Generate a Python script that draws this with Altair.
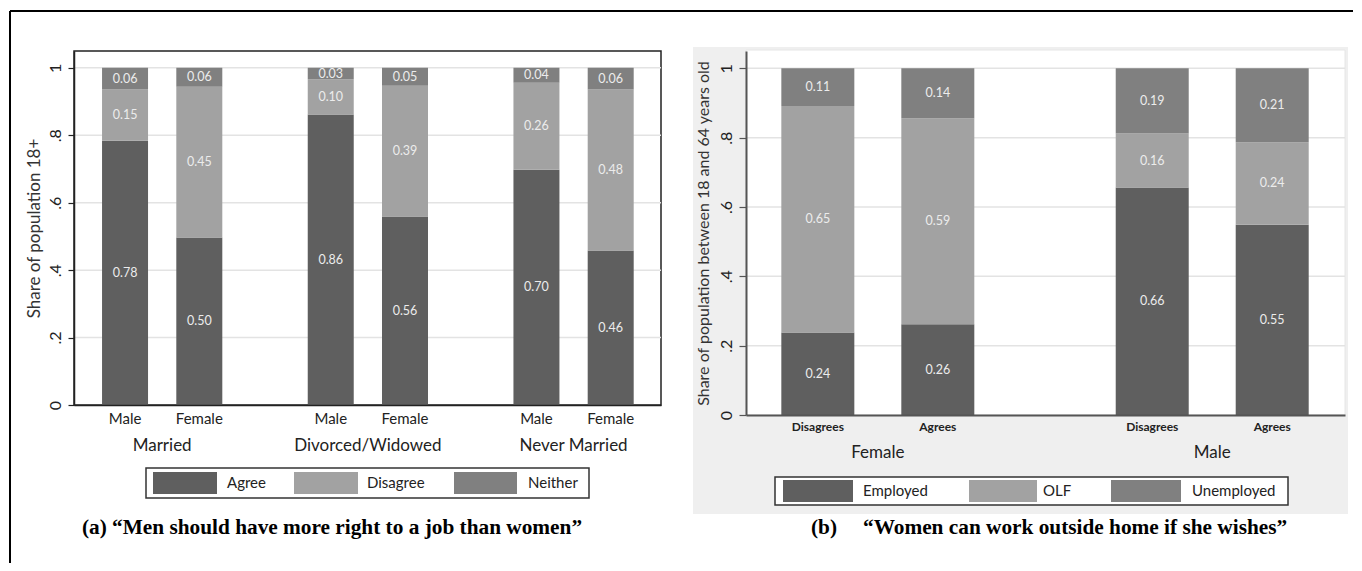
import altair as alt
import pandas as pd

# ---------------- data: panel (a) ----------------
A_GROUPS = ["Married", "Divorced/Widowed", "Never Married"]
A_SEXES = ["Male", "Female"]
A_CATS = ["Agree", "Disagree", "Neither"]
A_AGREE = [0.784, 0.497, 0.862, 0.559, 0.698, 0.458]
A_DISAGREE = [0.152, 0.447, 0.104, 0.388, 0.258, 0.478]
A_NEITHER = [0.064, 0.056, 0.034, 0.053, 0.044, 0.064]

# ---------------- data: panel (b) ----------------
B_GROUPS = ["Female", "Male"]
B_ATT = ["Disagrees", "Agrees"]
B_CATS = ["Employed", "OLF", "Unemployed"]
B_EMPLOYED = [0.238, 0.262, 0.656, 0.549]
B_OLF = [0.653, 0.594, 0.156, 0.238]
B_UNEMPLOYED = [0.109, 0.144, 0.188, 0.213]

Y_TICKS = [0, 0.2, 0.4, 0.6, 0.8, 1.0]
GRID_VALUES = [0.2, 0.4, 0.6, 0.8, 1.0]

TITLE_A_Y = "Share of population 18+"
TITLE_B_Y = "Share of population between 18 and 64 years old"
CAPTION_A = "(a) \u201cMen should have more right to a job than women\u201d"
CAPTION_B_TAG = "(b)"
CAPTION_B = "\u201cWomen can work outside home if she wishes\u201d"

COLORS = ["#5f5f5f", "#a2a2a2", "#808080"]
FONT = "Lato"
SERIF = "Liberation Serif"


def long_table(groups, subs, cats, series, gap):
    """Stacked segments; slot position = group index * gap + sub index."""
    rows = []
    for gi, g in enumerate(groups):
        for si, s in enumerate(subs):
            idx = gi * len(subs) + si
            base = 0.0
            for ci, c in enumerate(cats):
                v = series[ci][idx]
                rows.append(dict(group=g, sub=s, cat=c, value=v, pos=gi * gap + si,
                                 y0=base, y1=base + v, mid=base + v / 2))
                base += v
    return pd.DataFrame(rows)


def one_row():
    return pd.DataFrame({"k": [0]})


def panel(df, groups, subs, cats, W, H, gap, xdomain, bar_size, ytitle, ytitle_size,
          ytitle_pad, axis_color, axis_width, tick_size, sub_font, sub_weight, sub_y,
          grp_font, grp_y, legend_box, legend_sym, legend_lab, legend_sym_y,
          extra_back=None, extra_front=None):
    color = alt.Color("cat:N", scale=alt.Scale(domain=cats, range=COLORS), legend=None)
    yscale = alt.Scale(domain=[0, 1.05], nice=False, zero=True)
    xscale = alt.Scale(domain=xdomain, nice=False, zero=False)
    yaxis = alt.Axis(
        values=Y_TICKS,
        labelExpr="datum.value == 0 ? '0' : datum.value == 1 ? '1' : replace(format(datum.value, '.1f'), '0.', '.')",
        labelAngle=270, labelAlign="center", labelBaseline="bottom", labelPadding=5,
        labelFontSize=16, labelColor="#222", labelFont=FONT,
        tickSize=tick_size, tickColor=axis_color, tickWidth=1.2,
        domainColor=axis_color, domainWidth=axis_width, grid=False,
        title=ytitle, titleFont=FONT, titleFontSize=ytitle_size, titleFontWeight="normal",
        titleColor="#333", titlePadding=ytitle_pad, zindex=1)
    xaxis = alt.Axis(labels=False, ticks=False, title=None, grid=False,
                     domainColor=axis_color, domainWidth=axis_width, zindex=1)

    def xenc(field):
        return alt.X(field, type="quantitative", scale=xscale, axis=xaxis)

    def yenc(field):
        return alt.Y(field, type="quantitative", scale=yscale, axis=yaxis)

    layers = []
    if extra_back:
        layers += extra_back

    grid = alt.Chart(pd.DataFrame({"v": GRID_VALUES})).mark_rule(
        color="#e3e3e3", strokeWidth=1.5).encode(
        y=yenc("v"), x=alt.value(0), x2=alt.value(W))
    layers.append(grid)

    bars = alt.Chart(df).mark_bar(size=bar_size).encode(
        x=xenc("pos"), y=yenc("y0"), y2="y1:Q", color=color)
    layers.append(bars)

    labels = alt.Chart(df).mark_text(
        font=FONT, fontSize=12.5, color="#ececec", baseline="middle").encode(
        x=xenc("pos"), y=yenc("mid"), text=alt.Text("value:Q", format=".2f"))
    layers.append(labels)

    subs_df = df[["pos", "sub"]].drop_duplicates()
    sublab = alt.Chart(subs_df).mark_text(
        font=FONT, fontSize=sub_font, fontWeight=sub_weight, color="#222",
        baseline="middle").encode(
        x=xenc("pos"), y=alt.value(sub_y), text="sub:N")
    layers.append(sublab)

    grp_df = pd.DataFrame({"group": groups,
                           "center": [gi * gap + (len(subs) - 1) / 2 for gi in range(len(groups))]})
    grplab = alt.Chart(grp_df).mark_text(
        font=FONT, fontSize=grp_font, color="#222", baseline="middle").encode(
        x=xenc("center"), y=alt.value(grp_y), text="group:N")
    layers.append(grplab)

    # legend box
    bx0, bx1, by0, by1 = legend_box
    layers.append(alt.Chart(one_row()).mark_rect(
        fill="white", stroke="#333", strokeWidth=1.5).encode(
        x=alt.value(bx0), x2=alt.value(bx1), y=alt.value(by0), y2=alt.value(by1)))
    for c, (sx0, sx1), lx in zip(cats, legend_sym, legend_lab):
        cdf = pd.DataFrame({"cat": [c]})
        layers.append(alt.Chart(cdf).mark_rect().encode(
            x=alt.value(sx0), x2=alt.value(sx1),
            y=alt.value(legend_sym_y[0]), y2=alt.value(legend_sym_y[1]), color=color))
        layers.append(alt.Chart(cdf).mark_text(
            font=FONT, fontSize=15, color="#222", align="left", baseline="middle").encode(
            x=alt.value(lx), y=alt.value((by0 + by1) / 2), text="cat:N"))

    if extra_front:
        layers += extra_front
    return layers


# ---------------- panel (a) ----------------
WA, HA = 587, 354
GAP_A = 2.77
df_a = long_table(A_GROUPS, A_SEXES, A_CATS, [A_AGREE, A_DISAGREE, A_NEITHER], GAP_A)
front_a = [
    alt.Chart(one_row()).mark_text(font=SERIF, fontSize=21.3, fontWeight="bold",
                                   color="black", align="center", baseline="middle").encode(
        x=alt.value(258), y=alt.value(477), text=alt.value(CAPTION_A)),
    alt.Chart(one_row()).mark_rule(color="black", strokeWidth=2).encode(
        x=alt.value(-64), x2=alt.value(WA + 60), y=alt.value(-40)),
    alt.Chart(one_row()).mark_rule(color="black", strokeWidth=2).encode(
        x=alt.value(-64), y=alt.value(-40), y2=alt.value(512)),
]
layers_a = panel(
    df_a, A_GROUPS, A_SEXES, A_CATS, WA, HA, GAP_A, xdomain=[-0.62, 7.15], bar_size=46,
    ytitle=TITLE_A_Y, ytitle_size=17, ytitle_pad=4, axis_color="#222", axis_width=1.5,
    tick_size=6, sub_font=15, sub_weight="normal", sub_y=HA + 14,
    grp_font=17, grp_y=HA + 41,
    legend_box=(72, 515, 417, 447),
    legend_sym=[(79, 143), (220, 284), (380, 443)],
    legend_lab=[153, 293, 454], legend_sym_y=(421, 443),
    extra_front=front_a)
chart_a = alt.layer(*layers_a).properties(
    width=WA, height=HA,
    view=alt.ViewBackground(fill="white", stroke="#222", strokeWidth=1.5))

# ---------------- panel (b) ----------------
WB, HB = 599, 364
GAP_B = 2.787
df_b = long_table(B_GROUPS, B_ATT, B_CATS, [B_EMPLOYED, B_OLF, B_UNEMPLOYED], GAP_B)
back_b = [
    alt.Chart(one_row()).mark_rect(fill="#efefef").encode(
        x=alt.value(-53), x2=alt.value(WB + 3), y=alt.value(-4), y2=alt.value(463)),
    alt.Chart(one_row()).mark_rect(fill="white", stroke="#e6e6e6", strokeWidth=1).encode(
        x=alt.value(0), x2=alt.value(WB), y=alt.value(-1), y2=alt.value(HB)),
]
front_b = [
    alt.Chart(one_row()).mark_text(font=SERIF, fontSize=21.3, fontWeight="bold",
                                   color="black", align="left", baseline="middle").encode(
        x=alt.value(65), y=alt.value(477), text=alt.value(CAPTION_B_TAG)),
    alt.Chart(one_row()).mark_text(font=SERIF, fontSize=21.3, fontWeight="bold",
                                   color="black", align="left", baseline="middle").encode(
        x=alt.value(117), y=alt.value(477), text=alt.value(CAPTION_B)),
    alt.Chart(one_row()).mark_rule(color="black", strokeWidth=2).encode(
        x=alt.value(-90), x2=alt.value(607), y=alt.value(-40)),
]
layers_b = panel(
    df_b, B_GROUPS, B_ATT, B_CATS, WB, HB, GAP_B, xdomain=[-0.557, 4.352], bar_size=73,
    ytitle=TITLE_B_Y, ytitle_size=16, ytitle_pad=7, axis_color="#555", axis_width=2,
    tick_size=7, sub_font=12, sub_weight="bold", sub_y=HB + 12,
    grp_font=17, grp_y=HB + 38,
    legend_box=(29, 542, 426, 454),
    legend_sym=[(37, 107), (223, 291), (365, 435)],
    legend_lab=[117, 297, 446], legend_sym_y=(429, 451),
    extra_back=back_b, extra_front=front_b)
chart_b = alt.layer(*layers_b).properties(
    width=WB, height=HB,
    view=alt.ViewBackground(fill="white", stroke="transparent", strokeWidth=0))

chart = alt.hconcat(chart_a, chart_b, spacing=85, bounds="flush").properties(
    padding={"left": 0, "top": 1, "right": 0, "bottom": 0}
).configure(font=FONT, background="white")

chart.save("out.html", embed_options={"renderer": "svg", "actions": False})
